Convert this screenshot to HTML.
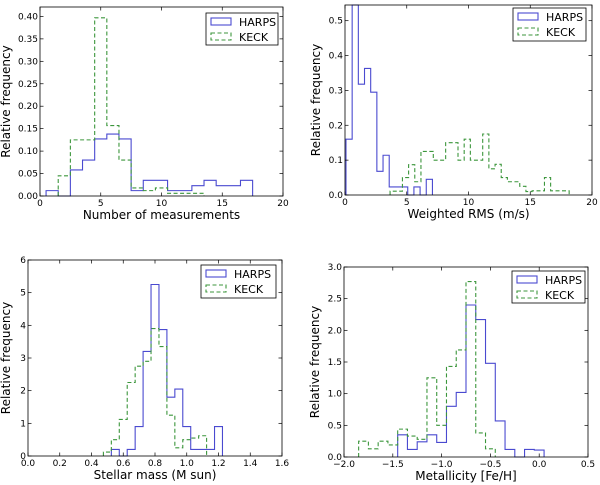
<!DOCTYPE html>
<html><head><meta charset="utf-8"><style>
html,body{margin:0;padding:0;background:#fff;}
svg{display:block;font-family:"DejaVu Sans","Liberation Sans",sans-serif;}
</style></head><body>
<svg id="fig" width="600" height="485" viewBox="0 0 600 485"></svg>
<script>
// Panel 1: Number of measurements
const p1HarpsEdges = [0.5,1.5,2.5,3.5,4.5,5.5,6.5,7.5,8.5,9.5,10.5,11.5,12.5,13.5,14.5,15.5,16.5,17.5];
const p1HarpsValues = [0.012,0,0.058,0.08,0.127,0.138,0.127,0.012,0.035,0.035,0.012,0.012,0.023,0.035,0.023,0.023,0.035];
const p1KeckEdges = [1.5,2.5,3.5,4.5,5.5,6.5,7.5,8.5,9.5,10.5,11.5,12.5,13.5];
const p1KeckValues = [0.045,0.125,0.125,0.397,0.157,0.08,0.018,0.012,0.018,0.006,0.006,0.006];
const p1XTicks = [0,5,10,15,20];
const p1YTicks = [0,0.05,0.10,0.15,0.20,0.25,0.30,0.35,0.40];
const p1YLabels = ["0.00","0.05","0.10","0.15","0.20","0.25","0.30","0.35","0.40"];
// Panel 2: Weighted RMS
const p2HarpsStart = 0.08, p2HarpsWidth = 0.5;
const p2HarpsValues = [0.16,0.545,0.318,0.363,0.295,0.068,0.114,0.023,0.023,0.023,0,0.023,0,0.045];
const p2KeckStart = 3.65, p2KeckWidth = 0.5;
const p2KeckValues = [0.011,0.011,0.05,0.087,0.038,0.125,0.125,0.10,0.10,0.15,0.15,0.10,0.16,0.10,0.10,0.175,0.075,0.088,0.05,0.038,0.038,0.025,0.01,0.012,0.012,0.05,0.012,0.012,0.012];
const p2XTicks = [0,5,10,15,20];
const p2YTicks = [0,0.1,0.2,0.3,0.4,0.5];
const p2YLabels = ["0.0","0.1","0.2","0.3","0.4","0.5"];
// Panel 3: Stellar mass
const p3HarpsStart = 0.525, p3HarpsWidth = 0.05;
const p3HarpsValues = [0.2,0,0.2,0.9,3.2,5.25,3.87,1.8,2.05,0.9,0.2,0.2,0.2,0.9];
const p3KeckStart = 0.475, p3KeckWidth = 0.05;
const p3KeckValues = [0.12,0.5,1.12,2.25,2.75,2.9,3.9,3.35,1.25,0.25,0.5,0.55,0.62];
const p3XTicks = [0,0.2,0.4,0.6,0.8,1.0,1.2,1.4,1.6];
const p3XLabels = ["0.0","0.2","0.4","0.6","0.8","1.0","1.2","1.4","1.6"];
const p3YTicks = [0,1,2,3,4,5,6];
// Panel 4: Metallicity
const p4HarpsStart = -1.45, p4HarpsWidth = 0.1;
const p4HarpsValues = [0.35,0.12,0.24,0.35,0.23,0.8,1.02,2.4,2.17,1.48,0.57,0.12,0,0.12,0.11];
const p4KeckStart = -1.85, p4KeckWidth = 0.1;
const p4KeckValues = [0.25,0.13,0.25,0.19,0.44,0.33,0.28,1.25,0.5,1.43,1.69,2.77,0.38,0.13];
const p4XTicks = [-2,-1.5,-1,-0.5,0,0.5];
const p4XLabels = ["\u22122.0","\u22121.5","\u22121.0","\u22120.5","0.0","0.5"];
const p4YTicks = [0,0.5,1,1.5,2,2.5,3];
const p4YLabels = ["0.0","0.5","1.0","1.5","2.0","2.5","3.0"];

const NS="http://www.w3.org/2000/svg";
const fig=document.getElementById('fig');
function mk(tag,attrs,parent){const e=document.createElementNS(NS,tag);for(const k in attrs)e.setAttribute(k,attrs[k]);(parent||fig).appendChild(e);return e;}
function edgesFrom(start,w,n){const a=[];for(let i=0;i<=n;i++)a.push(start+i*w);return a;}

const panels=[
 {id:'measurements',L:40,R:283,T:7,B:196,x0:0,x1:20,y0:0,y1:0.421,hE:p1HarpsEdges,hV:p1HarpsValues,kE:p1KeckEdges,kV:p1KeckValues,
  xt:p1XTicks,xl:p1XTicks.map(String),yt:p1YTicks,yl:p1YLabels,xlabel:"Number of measurements",leg:[206,13,72,32]},
 {id:'weighted-rms',L:345,R:592,T:5,B:195,x0:0,x1:20,y0:0,y1:0.545,hE:edgesFrom(p2HarpsStart,p2HarpsWidth,p2HarpsValues.length),hV:p2HarpsValues,kE:edgesFrom(p2KeckStart,p2KeckWidth,p2KeckValues.length),kV:p2KeckValues,
  xt:p2XTicks,xl:p2XTicks.map(String),yt:p2YTicks,yl:p2YLabels,xlabel:"Weighted RMS (m/s)",leg:[513,8,73,33]},
 {id:'stellar-mass',L:28,R:282,T:260,B:456,x0:0,x1:1.6,y0:0,y1:6,hE:edgesFrom(p3HarpsStart,p3HarpsWidth,p3HarpsValues.length),hV:p3HarpsValues,kE:edgesFrom(p3KeckStart,p3KeckWidth,p3KeckValues.length),kV:p3KeckValues,
  xt:p3XTicks,xl:p3XLabels,yt:p3YTicks,yl:p3YTicks.map(String),xlabel:"Stellar mass (M  sun)",leg:[201,265,75,33]},
 {id:'metallicity',L:344,R:588,T:267,B:457,x0:-2,x1:0.5,y0:0,y1:3,hE:edgesFrom(p4HarpsStart,p4HarpsWidth,p4HarpsValues.length),hV:p4HarpsValues,kE:edgesFrom(p4KeckStart,p4KeckWidth,p4KeckValues.length),kV:p4KeckValues,
  xt:p4XTicks,xl:p4XLabels,yt:p4YTicks,yl:p4YLabels,xlabel:"Metallicity [Fe/H]",leg:[512,271,73,32]}
];

panels.forEach(p=>{
 const g=mk('g',{});
 
 
 const sx=v=>p.L+(v-p.x0)/(p.x1-p.x0)*(p.R-p.L);
 const sy=v=>p.B-(v-p.y0)/(p.y1-p.y0)*(p.B-p.T);
 function step(edges,vals){
  let d='M'+sx(edges[0])+','+sy(0);
  for(let i=0;i<vals.length;i++){d+=' L'+sx(edges[i])+','+sy(vals[i])+' L'+sx(edges[i+1])+','+sy(vals[i]);}
  d+=' L'+sx(edges[vals.length])+','+sy(0);
  return d;
 }
 const hp=mk('path',{d:step(p.hE,p.hV),fill:'none',stroke:'#4a4ad0','stroke-width':1.1},g);
 
 
 const kp=mk('path',{d:step(p.kE,p.kV),fill:'none',stroke:'#3c963c','stroke-width':1.1,'stroke-dasharray':'4,2.5'},g);
 
 
 const fr=mk('rect',{x:p.L,y:p.T,width:p.R-p.L,height:p.B-p.T,fill:'none',stroke:'#000','stroke-width':0.8},g);
 
 
 p.xt.forEach((v,i)=>{
  const x=sx(v);
  mk('line',{x1:x,y1:p.B,x2:x,y2:p.B-3.5,stroke:'#000','stroke-width':0.7},g);
  mk('line',{x1:x,y1:p.T,x2:x,y2:p.T+3.5,stroke:'#000','stroke-width':0.7},g);
  const t=mk('text',{x:x,y:p.B+10,'font-size':9,'text-anchor':'middle'},g);
  t.textContent=p.xl[i];
  
  
 });
 p.yt.forEach((v,i)=>{
  const y=sy(v);
  mk('line',{x1:p.L,y1:y,x2:p.L+3.5,y2:y,stroke:'#000','stroke-width':0.7},g);
  mk('line',{x1:p.R,y1:y,x2:p.R-3.5,y2:y,stroke:'#000','stroke-width':0.7},g);
  const t=mk('text',{x:p.L-2,y:y+3,'font-size':9,'text-anchor':'end'},g);
  t.textContent=p.yl[i];
  
  
 });
 const xl=mk('text',{x:(p.L+p.R)/2,y:p.B+23,'font-size':12,'text-anchor':'middle'},g);
 xl.textContent=p.xlabel;
 
 
 const yx=p.L-(p.id==='stellar-mass'?18:(p.id==='measurements'?30:25));
 const yl=mk('text',{x:yx,y:(p.T+p.B)/2,'font-size':12,'text-anchor':'middle',transform:'rotate(-90 '+yx+' '+(p.T+p.B)/2+')'},g);
 yl.textContent='Relative frequency';
 
 
 const [lx,ly,lw,lh]=p.leg;
 const lg=mk('g',{},g);
 
 
 mk('rect',{x:lx,y:ly,width:lw,height:lh,fill:'#fff',stroke:'#000','stroke-width':0.8},lg);
 mk('rect',{x:lx+5,y:ly+5,width:20,height:7,fill:'none',stroke:'#4a4ad0','stroke-width':1.1},lg);
 mk('rect',{x:lx+5,y:ly+20,width:20,height:7,fill:'none',stroke:'#3c963c','stroke-width':1.1,'stroke-dasharray':'4,2.5'},lg);
 const t1=mk('text',{x:lx+33,y:ly+13,'font-size':11},lg);t1.textContent='HARPS';
 
 
 const t2=mk('text',{x:lx+33,y:ly+28,'font-size':11},lg);t2.textContent='KECK';
 
 
});
</script>
</body></html>
